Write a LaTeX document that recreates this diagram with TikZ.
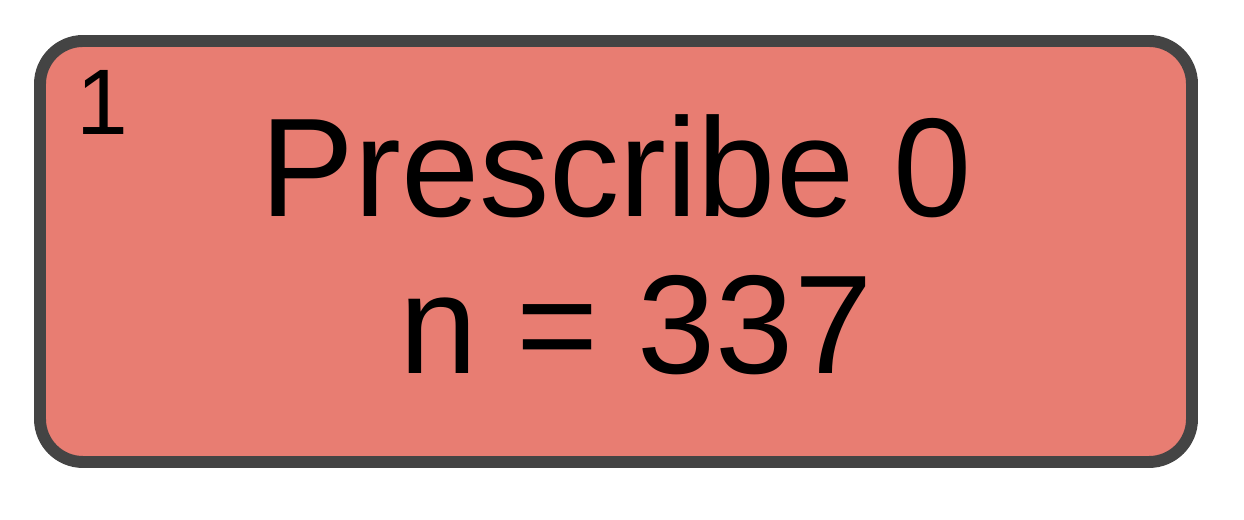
\documentclass[tikz,border=0pt]{standalone}
\usepackage{fontspec}
\setmainfont{Liberation Sans}
\definecolor{nodefill}{HTML}{E87D72}
\definecolor{nodeedge}{HTML}{444444}
\begin{document}
\begin{tikzpicture}[scale=1,
        leafbox/.style={draw=nodeedge, fill=nodefill, line width=3.4pt, rounded corners=0.43cm},
        bigtext/.style={inner sep=0, anchor=base, font=\fontsize{40}{45}\selectfont},
        idtext/.style={inner sep=0, anchor=base west, font=\fontsize{26.5}{30}\selectfont}]
        
        \useasboundingbox (0, 0) rectangle (12.44, 5.20);
        
        \draw[leafbox] (0.40, 0.58) rectangle (11.92, 4.79);
        \node[idtext] (id) at (0.76, 3.85) {1};
        
        \node[bigtext] (rule) at (6.16, 3.03) {Prescribe 0};
        \node[bigtext] (count) at (6.36, 1.46) {n = 337};
    \end{tikzpicture}
\end{document}
